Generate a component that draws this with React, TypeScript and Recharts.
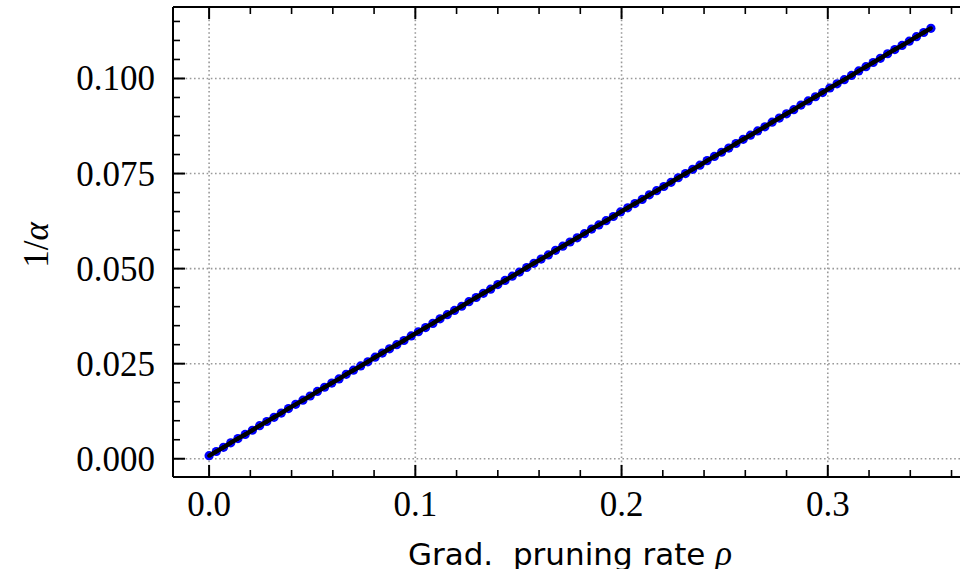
import React from 'react';
import { LineChart, Line, XAxis, YAxis, CartesianGrid, Label } from 'recharts';

const rho = [0, 0.0035, 0.007, 0.0105, 0.014, 0.0175, 0.021, 0.0245, 0.028, 0.0315, 0.035, 0.0385, 0.042, 0.0455, 0.049, 0.0525, 0.056, 0.0595, 0.063, 0.0665, 0.07, 0.0735, 0.077, 0.0805, 0.084, 0.0875, 0.091, 0.0945, 0.098, 0.1015, 0.105, 0.1085, 0.112, 0.1155, 0.119, 0.1225, 0.126, 0.1295, 0.133, 0.1365, 0.14, 0.1435, 0.147, 0.1505, 0.154, 0.1575, 0.161, 0.1645, 0.168, 0.1715, 0.175, 0.1785, 0.182, 0.1855, 0.189, 0.1925, 0.196, 0.1995, 0.203, 0.2065, 0.21, 0.2135, 0.217, 0.2205, 0.224, 0.2275, 0.231, 0.2345, 0.238, 0.2415, 0.245, 0.2485, 0.252, 0.2555, 0.259, 0.2625, 0.266, 0.2695, 0.273, 0.2765, 0.28, 0.2835, 0.287, 0.2905, 0.294, 0.2975, 0.301, 0.3045, 0.308, 0.3115, 0.315, 0.3185, 0.322, 0.3255, 0.329, 0.3325, 0.336, 0.3395, 0.343, 0.3465, 0.35];

const invAlpha = [0.0008, 0.0019, 0.0030, 0.0042, 0.0053, 0.0064, 0.0075, 0.0087, 0.0098, 0.0109, 0.0120, 0.0132, 0.0143, 0.0154, 0.0165, 0.0177, 0.0188, 0.0199, 0.0210, 0.0222, 0.0233, 0.0244, 0.0255, 0.0267, 0.0278, 0.0289, 0.0300, 0.0311, 0.0323, 0.0334, 0.0345, 0.0356, 0.0368, 0.0379, 0.0390, 0.0401, 0.0413, 0.0424, 0.0435, 0.0446, 0.0458, 0.0469, 0.0480, 0.0491, 0.0503, 0.0514, 0.0525, 0.0536, 0.0548, 0.0559, 0.0570, 0.0581, 0.0592, 0.0604, 0.0615, 0.0626, 0.0637, 0.0649, 0.0660, 0.0671, 0.0682, 0.0694, 0.0705, 0.0716, 0.0727, 0.0739, 0.0750, 0.0761, 0.0772, 0.0784, 0.0795, 0.0806, 0.0817, 0.0829, 0.0840, 0.0851, 0.0862, 0.0873, 0.0885, 0.0896, 0.0907, 0.0918, 0.0930, 0.0941, 0.0952, 0.0963, 0.0975, 0.0986, 0.0997, 0.1008, 0.1020, 0.1031, 0.1042, 0.1053, 0.1065, 0.1076, 0.1087, 0.1098, 0.1110, 0.1121, 0.1132];

const xMajorTicks = [0, 0.1, 0.2, 0.3];
const xAllTicks = [0, 0.02, 0.04, 0.06, 0.08, 0.1, 0.12, 0.14, 0.16, 0.18, 0.2, 0.22, 0.24, 0.26, 0.28, 0.3, 0.32, 0.34, 0.36];
const yMajorTicks = [0, 0.025, 0.05, 0.075, 0.1];
const yAllTicks = [0, 0.005, 0.01, 0.015, 0.02, 0.025, 0.03, 0.035, 0.04, 0.045, 0.05, 0.055, 0.06, 0.065, 0.07, 0.075, 0.08, 0.085, 0.09, 0.095, 0.1, 0.105, 0.11, 0.115];
const xDomain = [-0.0175, 0.3675];
const yDomain = [-0.0048, 0.1188];

const data = rho.map((r, i) => ({ rho: r, inv: invAlpha[i] }));

const SERIF = '"Liberation Serif", "DejaVu Serif", serif';
const SANS = '"DejaVu Sans", sans-serif';

const isIn = (arr: number[], v: number) => arr.some((m) => Math.abs(m - v) < 1e-9);

const BottomTick = (props: any) => {
  const { x, y, payload } = props;
  const v = payload.value;
  const major = isIn(xMajorTicks, v);
  return (
    <g>
      <line x1={x} x2={x} y1={y} y2={y - (major ? 12 : 7)} stroke="#000" strokeWidth={major ? 2 : 1.6} />
      {major && (
        <text x={x} y={y + 39} textAnchor="middle" fontFamily={SERIF} fontSize={35} fill="#000">
          {v.toFixed(1)}
        </text>
      )}
    </g>
  );
};

const TopTick = (props: any) => {
  const { x, y, payload } = props;
  const major = isIn(xMajorTicks, payload.value);
  return <line x1={x} x2={x} y1={y} y2={y + (major ? 12 : 7)} stroke="#000" strokeWidth={major ? 2 : 1.6} />;
};

const LeftTick = (props: any) => {
  const { x, y, payload } = props;
  const v = payload.value;
  const major = isIn(yMajorTicks, v);
  return (
    <g>
      <line x1={x} x2={x + (major ? 12 : 7)} y1={y} y2={y} stroke="#000" strokeWidth={major ? 2 : 1.6} />
      {major && (
        <text x={x - 18} y={y + 12} textAnchor="end" fontFamily={SERIF} fontSize={35} fill="#000">
          {v.toFixed(3)}
        </text>
      )}
    </g>
  );
};

// Blue marker plus the black connecting segment to the next point (so the black line sits above the markers).
const MarkerDot = (props: any) => {
  const { cx, cy, index, points } = props;
  if (cx == null || cy == null) return null;
  return <circle key={`m-${index}`} cx={cx} cy={cy} r={4.6} fill="#0000ff" />;
};

const SegmentDot = (props: any) => {
  const { cx, cy, index, points } = props;
  if (cx == null || cy == null || !points) return null;
  const next = points[index + 1];
  if (!next) return null;
  return (
    <line
      key={`s-${index}`}
      x1={cx}
      y1={cy}
      x2={next.x}
      y2={next.y}
      stroke="#000"
      strokeWidth={4}
      strokeLinecap="round"
    />
  );
};

const XLabel = (props: any) => {
  const vb = props.viewBox;
  return (
    <text x={vb.x + vb.width / 2} y={vb.y + 88} textAnchor="middle" fontFamily={SANS} fontSize={31} fill="#000">
      Grad.{'\u00a0'} pruning rate{' '}
      <tspan fontFamily={SERIF} fontStyle="italic" fontSize={35}>ρ</tspan>
    </text>
  );
};

const YLabel = (props: any) => {
  const vb = props.viewBox;
  const cx = vb.x + 48;
  const cy = vb.y + vb.height / 2 + 3;
  return (
    <text x={cx} y={cy} transform={`rotate(-90, ${cx}, ${cy})`} textAnchor="middle" fontFamily={SERIF} fontSize={35} fill="#000">
      1/<tspan fontStyle="italic">α</tspan>
    </text>
  );
};

export default function App() {
  return (
    <div style={{ position: 'absolute', left: 0, top: 0, width: 960, height: 569, overflow: 'hidden', background: '#fff' }}>
      <LineChart width={980} height={569} data={data} margin={{ top: 6, right: 13, bottom: 32, left: 0 }}>
        <CartesianGrid
          horizontalValues={yMajorTicks}
          verticalValues={xMajorTicks}
          stroke="#999"
          strokeWidth={1.6}
          strokeDasharray="1.6 2.6"
        />
        <XAxis
          dataKey="rho"
          type="number"
          domain={xDomain}
          allowDataOverflow
          ticks={xAllTicks}
          interval={0}
          tickSize={0}
          tickMargin={0}
          tickLine={false}
          tick={<BottomTick />}
          axisLine={{ stroke: '#000', strokeWidth: 2 }}
          height={60}
        >
          <Label content={<XLabel />} />
        </XAxis>
        <XAxis
          xAxisId="top"
          orientation="top"
          dataKey="rho"
          type="number"
          domain={xDomain}
          allowDataOverflow
          ticks={xAllTicks}
          interval={0}
          tickSize={0}
          tickMargin={0}
          tickLine={false}
          tick={<TopTick />}
          axisLine={{ stroke: '#000', strokeWidth: 2 }}
          height={1}
        />
        <YAxis
          type="number"
          domain={yDomain}
          allowDataOverflow
          ticks={yAllTicks}
          interval={0}
          tickSize={0}
          tickMargin={0}
          tickLine={false}
          tick={<LeftTick />}
          axisLine={{ stroke: '#000', strokeWidth: 2 }}
          width={173}
        >
          <Label content={<YLabel />} />
        </YAxis>
        <Line
          dataKey="inv"
          type="linear"
          stroke="none"
          dot={<MarkerDot />}
          zIndex={600}
          isAnimationActive={false}
        />
        <Line
          dataKey="inv"
          type="linear"
          stroke="#000"
          strokeWidth={4}
          dot={<SegmentDot />}
          zIndex={700}
          isAnimationActive={false}
        />
      </LineChart>
    </div>
  );
}
